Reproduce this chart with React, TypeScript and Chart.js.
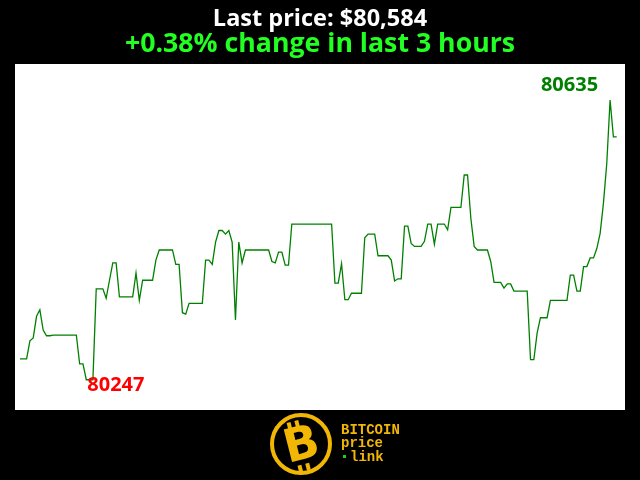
import { useEffect, useRef } from "react";
import { Chart, registerables } from "chart.js";

Chart.register(...registerables);

const TITLE_TEXT = "Last price: $80,584";
const SUBTITLE_TEXT = "+0.38% change in last 3 hours";
const LOGO_LINES = ["BITCOIN", "price", "link"];

// 1-minute prices over the last 3 hours
const PRICES: number[] = [
  80276, 80276, 80276, 80301, 80305, 80335, 80344, 80316, 80308, 80308,
  80309, 80309, 80309, 80309, 80309, 80309, 80309, 80309, 80269, 80269,
  80247, 80247, 80247, 80373, 80373, 80373, 80360, 80385, 80409, 80409,
  80362, 80362, 80362, 80362, 80362, 80395, 80357, 80385, 80385, 80385,
  80385, 80413, 80427, 80427, 80427, 80427, 80427, 80407, 80407, 80340,
  80338, 80353, 80353, 80353, 80353, 80353, 80413, 80413, 80407, 80438,
  80454, 80454, 80449, 80454, 80438, 80330, 80438, 80409, 80427, 80427,
  80427, 80427, 80427, 80427, 80427, 80427, 80411, 80409, 80424, 80424,
  80406, 80406, 80463, 80463, 80463, 80463, 80463, 80463, 80463, 80463,
  80463, 80463, 80463, 80463, 80463, 80381, 80381, 80408, 80358, 80358,
  80367, 80367, 80367, 80367, 80444, 80449, 80449, 80449, 80419, 80419,
  80419, 80419, 80413, 80384, 80387, 80387, 80460, 80460, 80436, 80432,
  80432, 80432, 80439, 80463, 80463, 80435, 80463, 80463, 80463, 80455,
  80486, 80486, 80486, 80486, 80531, 80531, 80471, 80432, 80427, 80427,
  80427, 80427, 80411, 80382, 80382, 80382, 80374, 80380, 80380, 80370,
  80370, 80370, 80370, 80370, 80275, 80275, 80312, 80333, 80333, 80333,
  80357, 80357, 80357, 80357, 80357, 80357, 80392, 80392, 80370, 80370,
  80404, 80404, 80416, 80416, 80429, 80450, 80492, 80547, 80635, 80584,
  80584,
];

const Y_MIN = 80205;
const Y_MAX = 80685;

const GOLD = "#f2b705";

const decorPlugin = {
  id: "decor",
  beforeDraw(chart: any) {
    const { ctx, chartArea: a, width, height } = chart;
    ctx.save();
    ctx.fillStyle = "#000";
    ctx.fillRect(0, 0, width, height);
    ctx.fillStyle = "#fff";
    ctx.fillRect(a.left, a.top, a.right - a.left, a.bottom - a.top);
    ctx.restore();
  },
  afterDraw(chart: any) {
    const { ctx } = chart;
    const xs = chart.scales.x;
    const ys = chart.scales.y;
    ctx.save();
    // titles
    ctx.textAlign = "center";
    ctx.textBaseline = "alphabetic";
    ctx.fillStyle = "#fff";
    ctx.font = "bold 23.5px 'Open Sans'";
    ctx.fillText(TITLE_TEXT, 320, 26);
    ctx.fillStyle = "#22ff22";
    ctx.font = "bold 26.7px 'Open Sans'";
    ctx.fillText(SUBTITLE_TEXT, 320, 52);

    // max / min annotations
    let maxI = 0;
    let minI = 0;
    PRICES.forEach((v, i) => {
      if (v > PRICES[maxI]) maxI = i;
      if (v < PRICES[minI]) minI = i;
    });
    ctx.font = "bold 20px 'Open Sans'";
    ctx.fillStyle = "#008000";
    ctx.textAlign = "right";
    ctx.fillText(String(PRICES[maxI]), xs.getPixelForValue(maxI) - 12, ys.getPixelForValue(PRICES[maxI]) - 9);
    ctx.fillStyle = "#ff0000";
    ctx.textAlign = "left";
    ctx.fillText(String(PRICES[minI]), xs.getPixelForValue(minI) + 1, ys.getPixelForValue(PRICES[minI]) + 11);

    // logo
    const cx = 301;
    const cy = 444;
    ctx.strokeStyle = GOLD;
    ctx.lineWidth = 4;
    ctx.beginPath();
    ctx.arc(cx, cy, 29, 0, Math.PI * 2);
    ctx.stroke();
    ctx.save();
    ctx.translate(cx + 1, cy + 3);
    ctx.rotate(-0.25);
    ctx.fillStyle = GOLD;
    ctx.font = "bold 46px 'DejaVu Sans'";
    ctx.textAlign = "center";
    ctx.textBaseline = "middle";
    ctx.fillText("B", 0, 0);
    ctx.fillRect(-9, -27, 4, 7);
    ctx.fillRect(-1, -27, 4, 7);
    ctx.fillRect(-9, 17, 4, 7);
    ctx.fillRect(-1, 17, 4, 7);
    ctx.restore();

    ctx.fillStyle = GOLD;
    ctx.textAlign = "left";
    ctx.textBaseline = "alphabetic";
    ctx.font = "bold 14px 'Liberation Mono'";
    ctx.fillText(LOGO_LINES[0], 341, 434);
    ctx.fillText(LOGO_LINES[1], 341, 447);
    ctx.fillText(LOGO_LINES[2], 350, 461);
    ctx.fillStyle = "#22cc22";
    ctx.fillRect(343, 455, 3, 3);
    ctx.restore();
  },
};

export default function App() {
  const ref = useRef<HTMLCanvasElement | null>(null);
  useEffect(() => {
    document.body.style.margin = "0";
    const c = ref.current;
    if (!c) return;
    const chart = new Chart(c, {
      type: "line",
      data: {
        datasets: [
          {
            data: PRICES.map((y, i) => ({ x: i, y })),
            borderColor: "#008000",
            borderWidth: 1.3,
            pointRadius: 0,
            tension: 0,
            fill: false,
          },
        ],
      },
      options: {
        animation: false,
        responsive: false,
        layout: { padding: { left: 15, right: 15, top: 64, bottom: 70 } },
        plugins: { legend: { display: false }, tooltip: { enabled: false }, title: { display: false } },
        scales: {
          x: { type: "linear", min: -1.5, max: 182.5, display: false },
          y: { type: "linear", min: Y_MIN, max: Y_MAX, display: false },
        },
      },
      plugins: [decorPlugin],
    });
    return () => chart.destroy();
  }, []);
  return (
    <div style={{ position: "fixed", left: 0, top: 0, width: 640, height: 480, background: "#000" }}>
      <canvas ref={ref} width={640} height={480} style={{ display: "block" }} />
    </div>
  );
}
